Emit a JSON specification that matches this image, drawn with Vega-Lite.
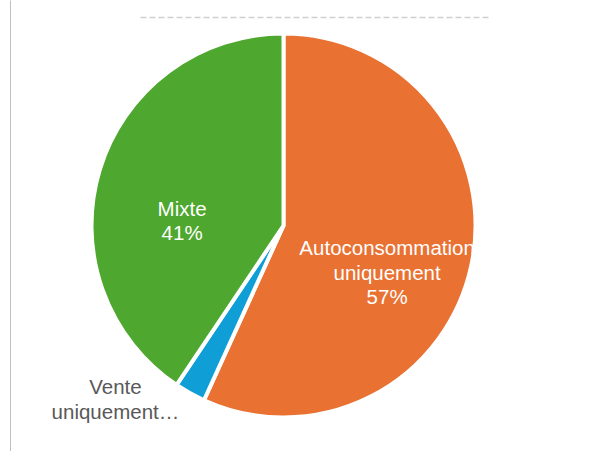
{
  "$schema": "https://vega.github.io/schema/vega-lite/v6.json",
  "width": 547,
  "height": 451,
  "autosize": {"type": "none"},
  "padding": {"left": 10, "top": 0, "right": 51, "bottom": 0},
  "background": "white",
  "config": {"view": {"stroke": null}, "font": "Liberation Sans"},
  "data": {
    "values": [
      {"categorie": "Autoconsommation uniquement", "part": 56.8, "ordre": 1, "etiquette": ["Autoconsommation", "uniquement", "57%"]},
      {"categorie": "Vente uniquement", "part": 2.6, "ordre": 2, "etiquette": ["Vente", "uniquement…"]},
      {"categorie": "Mixte", "part": 40.6, "ordre": 3, "etiquette": ["Mixte", "41%"]}
    ]
  },
  "layer": [
    {
      "mark": {"type": "arc", "outerRadius": 192, "stroke": "white", "strokeWidth": 4},
      "encoding": {
        "theta": {"field": "part", "type": "quantitative", "stack": true},
        "order": {"field": "ordre", "type": "quantitative"},
        "color": {
          "field": "categorie",
          "type": "nominal",
          "scale": {
            "domain": ["Autoconsommation uniquement", "Vente uniquement", "Mixte"],
            "range": ["#E97132", "#0F9ED5", "#4EA72E"]
          },
          "legend": null
        }
      }
    },
    {
      "mark": {"type": "text", "radius": 106, "dy": 1.5, "fontSize": 20.5, "color": "white", "lineHeight": 24.5, "align": "center", "baseline": "middle"},
      "encoding": {
        "theta": {"field": "part", "type": "quantitative", "stack": true},
        "order": {"field": "ordre", "type": "quantitative"},
        "text": {"condition": {"test": "datum.categorie !== 'Autoconsommation uniquement'", "value": ""}, "field": "etiquette"}
      }
    },
    {
      "mark": {"type": "text", "radius": 106, "dy": 15, "fontSize": 20.5, "color": "white", "lineHeight": 24.5, "align": "center", "baseline": "middle"},
      "encoding": {
        "theta": {"field": "part", "type": "quantitative", "stack": true},
        "order": {"field": "ordre", "type": "quantitative"},
        "text": {"condition": {"test": "datum.categorie !== 'Mixte'", "value": ""}, "field": "etiquette"}
      }
    },
    {
      "mark": {"type": "text", "radius": 190, "dx": -75.5, "dy": -3, "fontSize": 20.5, "color": "#595959", "lineHeight": 24.5, "align": "center", "baseline": "middle"},
      "encoding": {
        "theta": {"field": "part", "type": "quantitative", "stack": true},
        "order": {"field": "ordre", "type": "quantitative"},
        "text": {"condition": {"test": "datum.categorie !== 'Vente uniquement'", "value": ""}, "field": "etiquette"}
      }
    },
    {
      "mark": {"type": "point", "opacity": 0},
      "encoding": {
        "x": {
          "field": "part",
          "type": "quantitative",
          "scale": {"range": [130, 479]},
          "axis": {"orient": "top", "offset": -17, "domainDash": [6, 3], "domainColor": "#d0d0d0", "domainWidth": 1.5, "ticks": false, "labels": false, "title": null, "grid": false}
        },
        "y": {
          "field": "part",
          "type": "quantitative",
          "axis": {"orient": "left", "domainColor": "#c0c0c0", "domainWidth": 1, "ticks": false, "labels": false, "title": null, "grid": false}
        }
      }
    }
  ]
}
